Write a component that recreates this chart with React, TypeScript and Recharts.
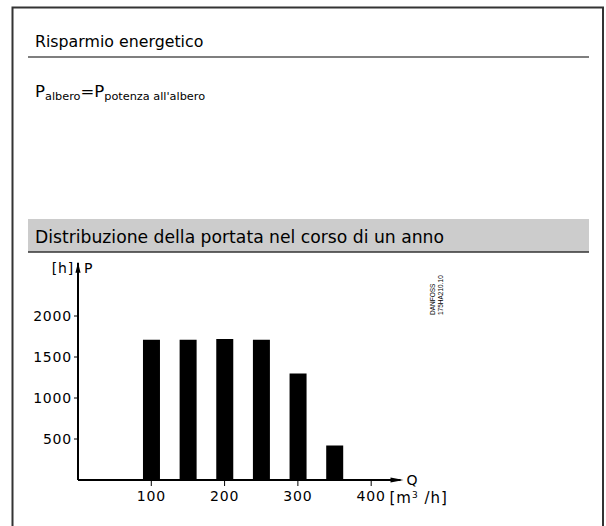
import React from "react";
import { BarChart, Bar, XAxis, YAxis } from "recharts";

const flowRates = [100, 150, 200, 250, 300, 350];
const hoursPerYear = [1710, 1710, 1720, 1710, 1300, 420];
const xTicks = [100, 200, 300, 400];
const yTicks = [500, 1000, 1500, 2000];

const data = flowRates.map((q, i) => ({ q, h: hoursPerYear[i] }));

const FONT = "'DejaVu Sans', Verdana, sans-serif";

const YArrow = (props: any) => {
  const vb = props.viewBox;
  if (!vb) return null;
  const ax = vb.x + vb.width;
  const top = vb.y;
  return (
    <g>
      <polygon points={`${ax},${top} ${ax - 2.6},${top + 10} ${ax + 2.6},${top + 10}`} fill="#000" />
      <text x={ax - 4} y={top + 10} textAnchor="end" fontFamily={FONT} fontSize={14} letterSpacing={0.8} fill="#000">[h]</text>
      <text x={ax + 6} y={top + 10} textAnchor="start" fontFamily={FONT} fontSize={14} fill="#000">P</text>
    </g>
  );
};

const XArrow = (props: any) => {
  const vb = props.viewBox;
  if (!vb) return null;
  const end = vb.x + vb.width;
  const y = vb.y;
  return (
    <g>
      <line x1={end - 4} y1={y} x2={end - 10} y2={y} stroke="#000" strokeWidth={2} />
      <polygon points={`${end - 10},${y - 2.6} ${end + 3},${y} ${end - 10},${y + 2.6}`} fill="#000" />
      <text x={end + 6} y={y + 5} fontFamily={FONT} fontSize={14} fill="#000">Q</text>
      <text x={end - 11} y={y + 23} fontFamily={FONT} fontSize={15} letterSpacing={1} fill="#000">
        [m<tspan dy={-5} fontSize={9}>3</tspan><tspan dy={5}> /h]</tspan>
      </text>
    </g>
  );
};

export default function App() {
  return (
    <div style={{ position: "absolute", left: 0, top: 0, width: 606, height: 526, background: "#fff", overflow: "hidden" }}>
      <svg width={606} height={526} style={{ position: "absolute", left: 0, top: 0 }}>
        <rect x={12.5} y={7.5} width={590.5} height={540} fill="none" stroke="#333" strokeWidth={2} />
        <text x={35} y={47} fontFamily={FONT} fontSize={15.8} fill="#000">Risparmio energetico</text>
        <line x1={28} y1={57} x2={589} y2={57} stroke="#555" strokeWidth={1.5} />
        <text x={35} y={97} fontFamily={FONT} fontSize={16.5} fill="#000">
          P<tspan fontSize={11.3} dy={3}>albero</tspan><tspan fontSize={16.5} dy={-3}>=P</tspan><tspan fontSize={11.3} dy={3}>potenza all'albero</tspan>
        </text>
        <rect x={28} y={219} width={561} height={33} fill="#cccccc" />
        <line x1={28} y1={252} x2={589} y2={252} stroke="#333" strokeWidth={1.5} />
        <text x={35} y={243} fontFamily={FONT} fontSize={17.2} fill="#000">Distribuzione della portata nel corso di un anno</text>
        <g transform="translate(435,315) rotate(-90)">
          <text x={0} y={0} fontFamily="'Liberation Sans', Arial, sans-serif" fontSize={6.5} fill="#000">DANFOSS</text>
          <text x={0} y={7.5} fontFamily="'Liberation Sans', Arial, sans-serif" fontSize={6.5} fill="#000">175HA210.10</text>
        </g>
      </svg>
      <div style={{ position: "absolute", left: 0, top: 0 }}>
        <BarChart width={606} height={526} data={data} margin={{ top: 262.7, right: 205.5, bottom: 16, left: 0 }}>
          <XAxis
            dataKey="q"
            type="number"
            domain={[0, 440]}
            ticks={xTicks}
            allowDataOverflow
            height={30}
            tickSize={6}
            tickMargin={5}
            axisLine={{ stroke: "#000", strokeWidth: 2 }}
            tickLine={{ stroke: "#000", strokeWidth: 1 }}
            tick={{ fill: "#000", fontFamily: FONT, fontSize: 14, letterSpacing: 0.8 }}
            label={<XArrow />}
          />
          <YAxis
            type="number"
            domain={[0, 2650]}
            ticks={yTicks}
            allowDataOverflow
            width={78}
            tickSize={4}
            tickMargin={2}
            axisLine={{ stroke: "#000", strokeWidth: 2 }}
            tickLine={{ stroke: "#000", strokeWidth: 1 }}
            tick={{ fill: "#000", fontFamily: FONT, fontSize: 14, letterSpacing: 0.8 }}
            label={<YArrow />}
          />
          <Bar dataKey="h" fill="#000" barSize={17} isAnimationActive={false} />
        </BarChart>
      </div>
    </div>
  );
}
